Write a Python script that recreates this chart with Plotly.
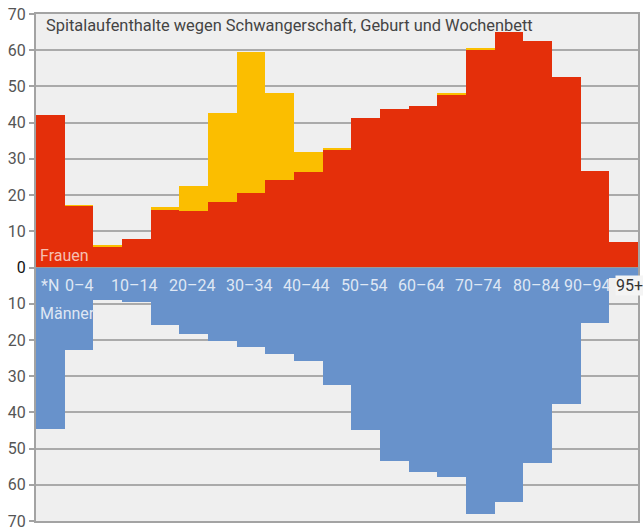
import plotly.graph_objects as go

categories = ["*N", "0–4", "5–9", "10–14", "15–19", "20–24", "25–29", "30–34", "35–39",
              "40–44", "45–49", "50–54", "55–59", "60–64", "65–69", "70–74", "75–79",
              "80–84", "85–89", "90–94", "95+"]
women = [42.1, 17.0, 5.9, 8.0, 15.9, 15.7, 18.2, 20.7, 24.2, 26.4, 32.5, 41.4, 43.7,
         44.6, 47.8, 60.3, 65.0, 62.6, 52.7, 26.7, 7.0]
pregnancy = [0, 0.2, 0.1, 0, 0.8, 6.8, 24.6, 38.9, 24.0, 5.5, 0.5, 0, 0, 0, 0.3, 0.2,
             0, 0, 0, 0, 0]
men = [44.7, 22.7, 9.0, 9.5, 15.8, 18.3, 20.3, 22.0, 23.9, 25.8, 32.4, 44.8, 53.4,
       56.4, 57.8, 68.0, 64.8, 53.9, 37.6, 15.2, 2.8]
shown_labels = ["*N", "0–4", "10–14", "20–24", "30–34", "40–44", "50–54", "60–64",
                "70–74", "80–84", "90–94", "95+"]
tick_values = [70, 60, 50, 40, 30, 20, 10, 0, -10, -20, -30, -40, -50, -60, -70]
title_text = "Spitalaufenthalte wegen Schwangerschaft, Geburt und Wochenbett"

RED = "#E42F0A"
YEL = "#FBBE00"
BLUE = "#6892CB"
FONT = "Roboto"

fig = go.Figure()
fig.add_trace(go.Bar(x=categories, y=women, marker=dict(color=RED, line=dict(width=0)),
                     name="Frauen"))
fig.add_trace(go.Bar(x=categories, y=pregnancy, marker=dict(color=YEL, line=dict(width=0)),
                     name="Schwangerschaft"))
fig.add_trace(go.Bar(x=categories, y=[-v for v in men], marker=dict(color=BLUE, line=dict(width=0)),
                     name="Männer"))

ticktext = []
for v in tick_values:
    if v == 0:
        ticktext.append("<span style='color:#111'>0</span>")
    else:
        ticktext.append(str(abs(v)))

annotations = []
for lab in shown_labels:
    if lab == "95+":
        annotations.append(dict(
            x=lab, y=-5.1, xref="x", yref="y", text=lab, showarrow=False,
            xanchor="left", yanchor="middle", xshift=-9,
            font=dict(family=FONT, size=16, color="#333333"),
            bgcolor="#f4f4f4", borderpad=0,
        ))
    else:
        annotations.append(dict(
            x=lab, y=-5.1, xref="x", yref="y", text=lab, showarrow=False,
            xanchor="center", yanchor="middle",
            xshift=-8 if lab == "90–94" else (-2 if lab not in ("*N", "0–4") else 0),
            font=dict(family=FONT, size=16, color="#dfe7f4"),
        ))
annotations.append(dict(x=0.003, y=3.2, xref="paper", yref="y", text="Frauen",
                        showarrow=False, xanchor="left", yanchor="middle",
                        font=dict(family=FONT, size=16, color="#f6c0b2")))
annotations.append(dict(x=0.003, y=-12.6, xref="paper", yref="y", text="Männer",
                        showarrow=False, xanchor="left", yanchor="middle",
                        font=dict(family=FONT, size=16, color="#dfe7f4")))
annotations.append(dict(x=0.013, y=0.978, xref="paper", yref="paper", text=title_text,
                        showarrow=False, xanchor="left", yanchor="middle",
                        font=dict(family=FONT, size=16.4, color="#444444")))

fig.update_layout(
    width=643, height=530,
    margin=dict(l=36, r=5, t=14, b=9, autoexpand=False),
    paper_bgcolor="white", plot_bgcolor="#efefef",
    barmode="relative", bargap=0, showlegend=False,
    font=dict(family=FONT, size=16, color="#555555"),
    annotations=annotations,
    shapes=[dict(type="line", xref="paper", yref="y", x0=0, x1=1, y0=0, y1=0,
                 line=dict(color="#9a9a9a", width=1), layer="above")],
)
fig.update_xaxes(showticklabels=False, ticks="", showgrid=False, zeroline=False,
                 range=[-0.5, len(categories) - 0.5],
                 showline=True, mirror=True, linecolor="#a3a3a3", linewidth=2)
fig.update_yaxes(range=[-70, 70], tickvals=tick_values, ticktext=ticktext,
                 showgrid=True, gridcolor="#aaaaaa", gridwidth=1.5, zeroline=False,
                 ticks="outside", ticklen=5, tickcolor="#a3a3a3", tickwidth=2,
                 showline=True, mirror=True, linecolor="#a3a3a3", linewidth=2,
                 automargin=False, ticklabeloverflow="allow",
                 tickfont=dict(family=FONT, size=16, color="#555555"))

fig.write_html("out.html", config={"displayModeBar": False},
               post_script="document.body.style.margin='0px';")
